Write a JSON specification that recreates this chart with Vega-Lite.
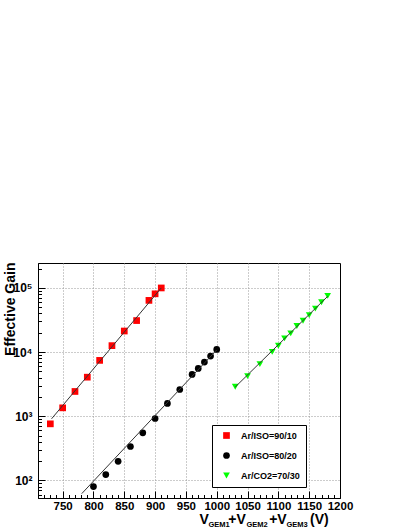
{
  "$schema": "https://vega.github.io/schema/vega-lite/v6.json",
  "autosize": "none",
  "width": 302,
  "height": 235,
  "padding": {"left": 38, "top": 263, "right": 69, "bottom": 31},
  "background": "white",
  "datasets": {
    "points": [
      {"voltage": 730, "gain": 760, "mixture": "Ar/ISO=90/10"},
      {"voltage": 750, "gain": 1350, "mixture": "Ar/ISO=90/10"},
      {"voltage": 770, "gain": 2430, "mixture": "Ar/ISO=90/10"},
      {"voltage": 790, "gain": 4060, "mixture": "Ar/ISO=90/10"},
      {"voltage": 810, "gain": 7420, "mixture": "Ar/ISO=90/10"},
      {"voltage": 830, "gain": 12600, "mixture": "Ar/ISO=90/10"},
      {"voltage": 850, "gain": 21300, "mixture": "Ar/ISO=90/10"},
      {"voltage": 870, "gain": 31000, "mixture": "Ar/ISO=90/10"},
      {"voltage": 890, "gain": 64000, "mixture": "Ar/ISO=90/10"},
      {"voltage": 900, "gain": 81000, "mixture": "Ar/ISO=90/10"},
      {"voltage": 910, "gain": 100000, "mixture": "Ar/ISO=90/10"},
      {"voltage": 800, "gain": 80, "mixture": "Ar/ISO=80/20"},
      {"voltage": 820, "gain": 123, "mixture": "Ar/ISO=80/20"},
      {"voltage": 840, "gain": 198, "mixture": "Ar/ISO=80/20"},
      {"voltage": 860, "gain": 337, "mixture": "Ar/ISO=80/20"},
      {"voltage": 880, "gain": 550, "mixture": "Ar/ISO=80/20"},
      {"voltage": 900, "gain": 920, "mixture": "Ar/ISO=80/20"},
      {"voltage": 920, "gain": 1580, "mixture": "Ar/ISO=80/20"},
      {"voltage": 940, "gain": 2610, "mixture": "Ar/ISO=80/20"},
      {"voltage": 960, "gain": 4480, "mixture": "Ar/ISO=80/20"},
      {"voltage": 970, "gain": 5560, "mixture": "Ar/ISO=80/20"},
      {"voltage": 980, "gain": 6980, "mixture": "Ar/ISO=80/20"},
      {"voltage": 990, "gain": 8660, "mixture": "Ar/ISO=80/20"},
      {"voltage": 1000, "gain": 11000, "mixture": "Ar/ISO=80/20"},
      {"voltage": 1030, "gain": 2880, "mixture": "Ar/CO2=70/30"},
      {"voltage": 1050, "gain": 4220, "mixture": "Ar/CO2=70/30"},
      {"voltage": 1070, "gain": 6490, "mixture": "Ar/CO2=70/30"},
      {"voltage": 1090, "gain": 10100, "mixture": "Ar/CO2=70/30"},
      {"voltage": 1100, "gain": 12540, "mixture": "Ar/CO2=70/30"},
      {"voltage": 1110, "gain": 16370, "mixture": "Ar/CO2=70/30"},
      {"voltage": 1120, "gain": 19600, "mixture": "Ar/CO2=70/30"},
      {"voltage": 1130, "gain": 25500, "mixture": "Ar/CO2=70/30"},
      {"voltage": 1140, "gain": 30800, "mixture": "Ar/CO2=70/30"},
      {"voltage": 1150, "gain": 37800, "mixture": "Ar/CO2=70/30"},
      {"voltage": 1160, "gain": 47500, "mixture": "Ar/CO2=70/30"},
      {"voltage": 1170, "gain": 59800, "mixture": "Ar/CO2=70/30"},
      {"voltage": 1180, "gain": 75000, "mixture": "Ar/CO2=70/30"}
    ],
    "fits": [
      {"voltage": 732, "gain": 910, "mixture": "Ar/ISO=90/10"},
      {"voltage": 910, "gain": 100000, "mixture": "Ar/ISO=90/10"},
      {"voltage": 781, "gain": 62, "mixture": "Ar/ISO=80/20"},
      {"voltage": 1000, "gain": 10800, "mixture": "Ar/ISO=80/20"},
      {"voltage": 1030, "gain": 2850, "mixture": "Ar/CO2=70/30"},
      {"voltage": 1180, "gain": 74000, "mixture": "Ar/CO2=70/30"}
    ]
  },
  "layer": [
    {
      "data": {"name": "points"},
      "mark": {"type": "point", "filled": true, "size": 45, "opacity": 1},
      "encoding": {
        "x": {
          "field": "voltage", "type": "quantitative",
          "scale": {"domain": [710, 1200], "nice": false, "zero": false},
          "axis": {
            "orient": "bottom",
            "offset": 0,
            "values": [710, 720, 730, 740, 750, 760, 770, 780, 790, 800, 810, 820, 830, 840, 850, 860, 870, 880, 890, 900, 910, 920, 930, 940, 950, 960, 970, 980, 990, 1000, 1010, 1020, 1030, 1040, 1050, 1060, 1070, 1080, 1090, 1100, 1110, 1120, 1130, 1140, 1150, 1160, 1170, 1180, 1190, 1200],
            "labelExpr": "datum.value % 50 === 0 ? datum.label : ''",
            "format": "d",
            "tickSize": {"condition": {"test": "datum.value % 50 === 0", "value": -7}, "value": -3.5},
            "gridOpacity": {"condition": {"test": "datum.value % 50 === 0 && datum.value < 1200", "value": 1}, "value": 0},
            "labelPadding": 9,
            "title": "V\u00a0\u00a0\u00a0\u00a0\u00a0+V\u00a0\u00a0\u00a0\u00a0\u00a0\u00a0+V\u00a0\u00a0\u00a0\u00a0\u00a0\u00a0(V)",
            "titleFontSize": 14,
            "titleAlign": "left",
            "titleBaseline": "alphabetic",
            "titleX": 161,
            "titleY": 25.5
          }
        },
        "y": {
          "field": "gain", "type": "quantitative",
          "scale": {"type": "log", "domain": [53, 245000], "nice": false},
          "axis": {
            "values": [60, 70, 80, 90, 100, 200, 300, 400, 500, 600, 700, 800, 900, 1000, 2000, 3000, 4000, 5000, 6000, 7000, 8000, 9000, 10000, 20000, 30000, 40000, 50000, 60000, 70000, 80000, 90000, 100000, 200000],
            "labelExpr": "abs(log(datum.value)/LN10 - round(log(datum.value)/LN10)) < 0.001 ? '10' + ['⁰','¹','²','³','⁴','⁵','⁶'][round(log(datum.value)/LN10)] : ''",
            "tickSize": {"condition": {"test": "abs(log(datum.value)/LN10 - round(log(datum.value)/LN10)) < 0.001", "value": -7}, "value": -3.5},
            "gridOpacity": {"condition": {"test": "abs(log(datum.value)/LN10 - round(log(datum.value)/LN10)) < 0.001", "value": 1}, "value": 0},
            "labelPadding": 13,
            "labelFontSize": 12,
            "title": "Effective Gain",
            "titleFontSize": 14,
            "titleAngle": -90,
            "titleAlign": "right",
            "titleBaseline": "alphabetic",
            "titleX": -24,
            "titleY": -1
          }
        },
        "color": {
          "field": "mixture", "type": "nominal",
          "scale": {"domain": ["Ar/ISO=90/10", "Ar/ISO=80/20", "Ar/CO2=70/30"], "range": ["#ff0000", "#000000", "#00ff00"]},
          "legend": {"title": null}
        },
        "shape": {
          "field": "mixture", "type": "nominal",
          "scale": {"domain": ["Ar/ISO=90/10", "Ar/ISO=80/20", "Ar/CO2=70/30"], "range": ["square", "circle", "triangle-down"]},
          "legend": {"title": null}
        }
      }
    },
    {
      "data": {"name": "fits"},
      "mark": {"type": "line", "color": "#333333", "strokeWidth": 1},
      "encoding": {
        "x": {
          "field": "voltage", "type": "quantitative",
          "axis": {
            "orient": "bottom",
            "offset": 0,
            "labels": false,
            "ticks": false,
            "domain": false,
            "grid": false,
            "title": "GEM1\u00a0\u00a0\u00a0\u00a0\u00a0\u00a0\u00a0\u00a0GEM2\u00a0\u00a0\u00a0\u00a0\u00a0\u00a0\u00a0\u00a0\u00a0GEM3",
            "titleFontSize": 7.5,
            "titleAlign": "left",
            "titleBaseline": "alphabetic",
            "titleX": 170,
            "titleY": 28
          }
        },
        "y": {"field": "gain", "type": "quantitative"},
        "detail": {"field": "mixture", "type": "nominal"}
      }
    }
  ],
  "resolve": {"axis": {"x": "independent"}},
  "config": {
    "view": {"stroke": "black", "strokeWidth": 1},
    "axis": {
      "domainColor": "black",
      "tickColor": "black",
      "gridColor": "#999999",
      "gridDash": [1, 2],
      "labelFont": "Liberation Sans Narrow, Liberation Sans",
      "labelFontWeight": "bold",
      "labelFontSize": 11.5,
      "labelColor": "black",
      "labelOverlap": false,
      "labelFlush": false,
      "titleFont": "Liberation Sans",
      "titleFontWeight": "bold",
      "titleColor": "black"
    },
    "legend": {
      "orient": "none",
      "legendX": 174,
      "legendY": 162,
      "strokeColor": "black",
      "fillColor": "white",
      "padding": 6,
      "symbolOffset": 4,
      "symbolSize": 45,
      "rowPadding": 10,
      "labelOffset": 10,
      "labelFont": "Liberation Sans",
      "labelFontWeight": "bold",
      "labelFontSize": 9,
      "labelColor": "black",
      "labelExpr": "datum.label + '\u00a0\u00a0\u00a0\u00a0\u00a0\u00a0\u00a0\u00a0'"
    }
  }
}
